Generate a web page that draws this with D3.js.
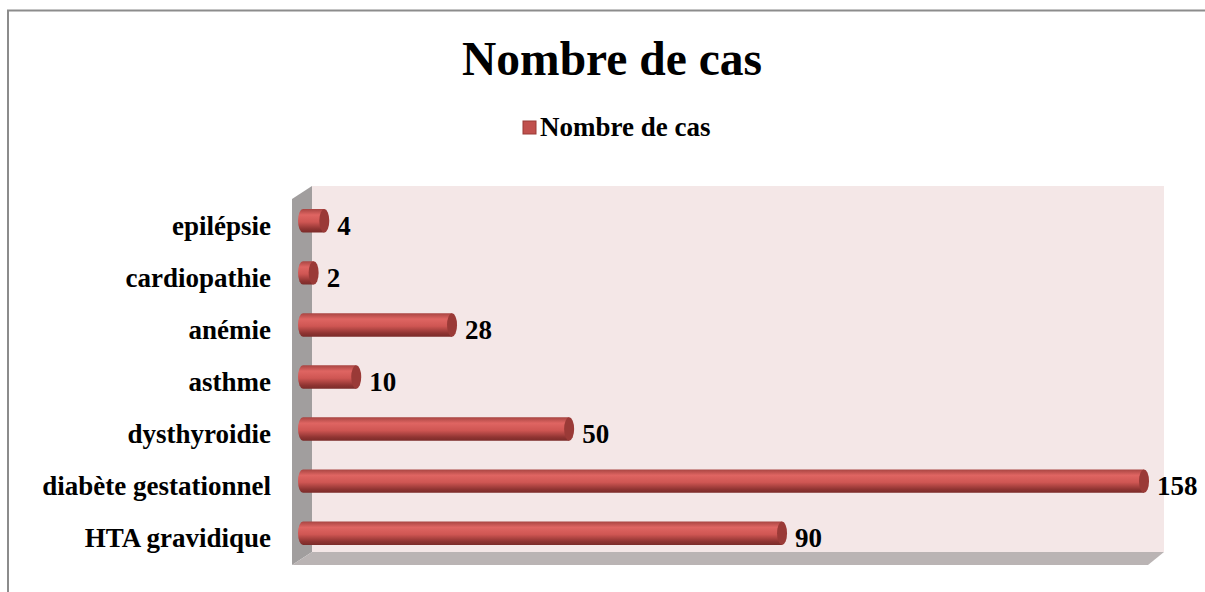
<!DOCTYPE html>
<html>
<head>
<meta charset="utf-8">
<script src="https://cdn.jsdelivr.net/npm/d3@7"></script>
<style>
  body { margin: 0; background: #fff; }
  text { font-family: "Liberation Serif", "Times New Roman", serif; font-weight: bold; }
</style>
</head>
<body>
<svg width="1205" height="592"></svg>
<script>
const categories = ['epilépsie', 'cardiopathie', 'anémie', 'asthme', 'dysthyroidie', 'diabète gestationnel', 'HTA gravidique'];
const values = [4, 2, 28, 10, 50, 158, 90];
const seriesName = 'Nombre de cas';

const svg = d3.select('svg');

// outer frame
svg.append('path')
  .attr('d', 'M8,592 V10.5 H1205')
  .attr('fill', 'none')
  .attr('stroke', '#8c8c8c')
  .attr('stroke-width', 2);

// 3D box: back wall, left side, floor
const wall = { left: 312, right: 1164, top: 186, bottom: 552, depth: 20, drop: 13 };
svg.append('rect')
  .attr('x', wall.left).attr('y', wall.top)
  .attr('width', wall.right - wall.left).attr('height', wall.bottom - wall.top)
  .attr('fill', '#f4e7e7');
svg.append('polygon')
  .attr('points', [[wall.left, wall.top], [wall.left - wall.depth, wall.top + wall.drop],
    [wall.left - wall.depth, wall.bottom + wall.drop], [wall.left, wall.bottom]].join(' '))
  .attr('fill', '#a19e9e');
svg.append('polygon')
  .attr('points', [[wall.left, wall.bottom], [wall.right, wall.bottom],
    [wall.right - 16, wall.bottom + wall.drop], [wall.left - wall.depth, wall.bottom + wall.drop]].join(' '))
  .attr('fill', '#bab4b4');

const x = d3.scaleLinear().domain([0, 158]).range([303, 1144]);
const y = d3.scaleBand().domain(categories).range([195, 559]).paddingInner(0.55).paddingOuter(0.27);

const defs = svg.append('defs');
const grad = defs.append('linearGradient').attr('id', 'cyl').attr('x1', 0).attr('y1', 0).attr('x2', 0).attr('y2', 1);
grad.append('stop').attr('offset', '0%').attr('stop-color', '#a84542');
grad.append('stop').attr('offset', '25%').attr('stop-color', '#df6562');
grad.append('stop').attr('offset', '55%').attr('stop-color', '#cf5653');
grad.append('stop').attr('offset', '85%').attr('stop-color', '#8f3432');
grad.append('stop').attr('offset', '100%').attr('stop-color', '#7a2b29');

const bh = y.bandwidth();
const rx = 5;
const bars = svg.append('g').selectAll('g').data(categories).join('g');

bars.append('path')
  .attr('d', (d, i) => {
    const x0 = x(0), x1 = Math.max(x(values[i]), x0 + 2), y0 = y(d), r = bh / 2;
    return `M${x1},${y0} H${x0} A${rx},${r} 0 0 0 ${x0},${y0 + bh} H${x1} Z`;
  })
  .attr('fill', 'url(#cyl)');
bars.append('ellipse')
  .attr('cx', (d, i) => Math.max(x(values[i]), x(0) + 2))
  .attr('cy', d => y(d) + bh / 2)
  .attr('rx', rx).attr('ry', bh / 2)
  .attr('fill', '#9a3a37');

// value labels
bars.append('text')
  .attr('x', (d, i) => Math.max(x(values[i]), x(0) + 2) + rx + 8)
  .attr('y', d => y(d) + bh / 2 + 14)
  .attr('font-size', 27)
  .text((d, i) => values[i]);

// category axis labels
svg.append('g').selectAll('text').data(categories).join('text')
  .attr('x', 271)
  .attr('y', d => y(d) + bh / 2 + 14)
  .attr('text-anchor', 'end')
  .attr('font-size', 27)
  .text(d => d);

// title
svg.append('text')
  .attr('x', 612).attr('y', 75)
  .attr('text-anchor', 'middle')
  .attr('font-size', 47.5)
  .text(seriesName);

// legend
svg.append('rect')
  .attr('x', 523).attr('y', 121).attr('width', 13).attr('height', 13)
  .attr('fill', '#c0504d').attr('stroke', '#9a3a37');
svg.append('text')
  .attr('x', 540).attr('y', 136)
  .attr('font-size', 27)
  .text(seriesName);
</script>
</body>
</html>
